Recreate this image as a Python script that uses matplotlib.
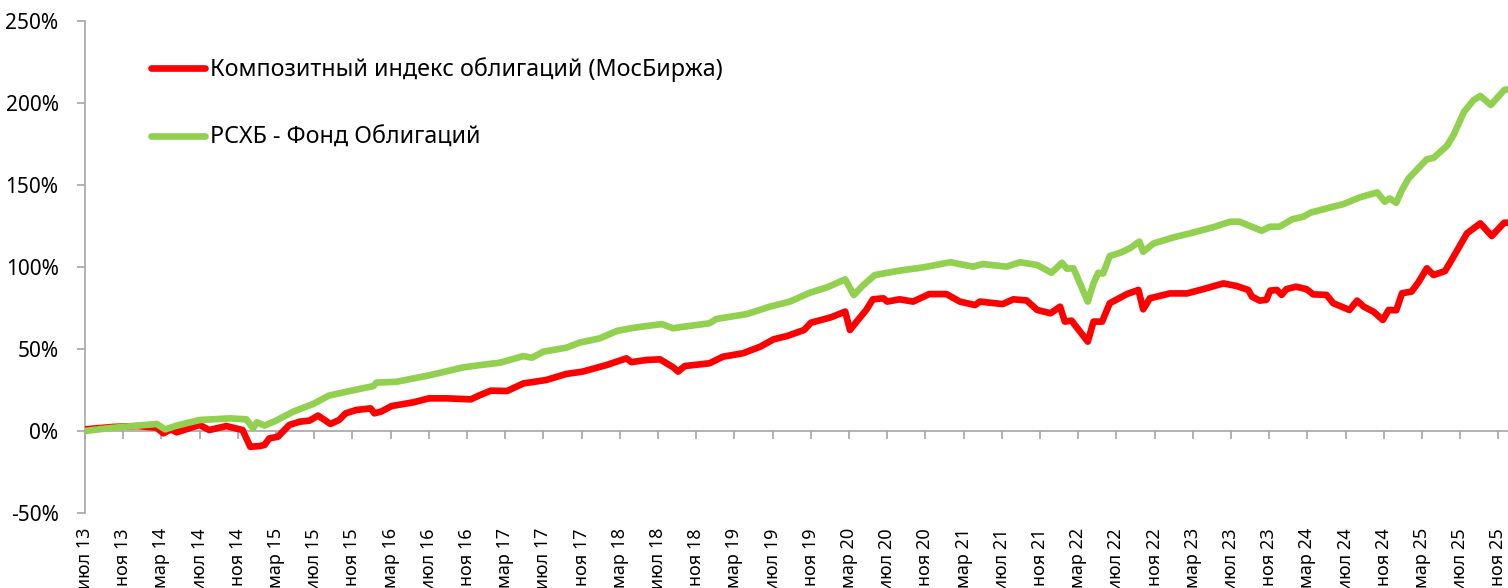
import matplotlib
matplotlib.use("Agg")
import matplotlib.pyplot as plt
from matplotlib.lines import Line2D

plt.rcParams['font.family'] = ['Noto Sans', 'DejaVu Sans']

# months since July 2013
red_x = [0, 3, 5.5, 7.5, 8.2, 9, 9.6, 12, 13, 14.8, 16.5, 17.3, 18.3, 18.8, 19.3, 20.2,
         21.4, 22.5, 23.5, 24.4, 25.7, 26.6, 27.3, 28.4, 29.9, 30.3, 31, 32.1, 34.4, 36,
         37.9, 40.4, 41.4, 42.5, 44.2, 45.9, 48.3, 50.4, 52.1, 54.6, 56.7, 57.2, 58.8,
         60.2, 61.6, 62.1, 62.8, 65.4, 66.8, 68.9, 70.7, 72.1, 73.5, 75.3, 76, 78.1, 79.6,
         80.1, 80.8, 81.8, 82.5, 83.6, 84, 85.3, 86.7, 88.4, 90.2, 91.6, 93.2, 93.7, 96.1,
         97.2, 98.6, 99.7, 101.1, 102.1, 102.6, 103.3, 105, 105.6, 106.5, 107.3, 109.1,
         110.3, 110.8, 111.5, 113.6, 115.4, 117.4, 119.2, 120.6, 121.8, 122.2, 123, 123.7,
         124.1, 124.8, 125.3, 125.8, 126.8, 127.9, 128.6, 130, 130.7, 132.4, 133.2, 133.9,
         134.9, 135.9, 136.5, 137.3, 137.9, 138.9, 139.6, 140.5, 141.2, 142.4, 143.3,
         144.7, 146.1, 147.3, 148.6, 149.1]
red_y = [1.0, 2.5, 3.0, 2.0, -1.4, 1.0, -0.8, 3.7, 0.6, 3.0, 0.6, -9.6, -9.2, -8.5, -4.5, -3.5,
         3.7, 5.7, 6.3, 9.4, 4.3, 6.7, 10.8, 12.8, 13.8, 10.8, 11.8, 15.2, 17.5, 19.9,
         19.9, 19.3, 22.0, 24.6, 24.4, 29.0, 31.1, 34.8, 36.2, 40.2, 44.3, 42.0, 43.3,
         43.7, 38.8, 36.2, 39.6, 41.3, 45.3, 47.4, 51.4, 55.9, 57.9, 61.6, 66.0, 69.3, 72.8,
         61.6, 66.7, 73.8, 80.3, 80.9, 78.9, 80.3, 78.9, 83.5, 83.5, 78.9, 76.8, 78.9, 77.4,
         80.3, 79.6, 73.8, 71.8, 75.8, 66.7, 67.3, 54.5, 66.7, 66.7, 77.9, 83.5,
         86.0, 74.2, 80.9, 83.9, 83.9, 87.0, 90.0, 88.4, 86.0, 81.9, 79.5, 80.0,
         85.6, 86.0, 83.0, 86.5, 88.0, 86.5, 83.3, 83.0, 77.9, 73.8, 79.5, 75.8,
         72.8, 67.7, 73.8, 73.6, 84.0, 85.0, 90.5, 99.2, 95.1, 97.5, 106.3,
         120.5, 126.6, 118.9, 127.0, 127.0]

green_x = [0, 2.3, 5, 7.5, 8.4, 9.6, 12, 15.2, 16.9, 17.6, 18, 18.8, 20, 21.8, 23.9, 25.5,
           27.4, 30.2, 30.5, 32.6, 36.1, 39.6, 41.4, 43.5, 45.9, 46.8, 48, 50.4, 51.8, 53.9,
           55.7, 57.1, 58.8, 60.4, 61.6, 62.3, 65.4, 66.1, 69.3, 71.7, 73.8, 75.9, 77.7,
           79.6, 80.5, 81.5, 82.7, 85.3, 87.8, 90.6, 93, 94, 96.5, 97.9, 99.7, 101.2, 102.3,
           102.8, 103.5, 105, 105.6, 106.1, 106.6, 107.3, 108.4, 109.4, 110.4, 110.8, 111.9,
           114, 115.7, 118.1, 119.9, 120.9, 123.2, 124.1, 125.1, 126.4, 127.6, 128.3, 130.7,
           131.8, 133.5, 135.3, 136.1, 136.6, 137.3, 137.9, 138.6, 140.5, 141.2, 142.6,
           143.3, 144.4, 145.4, 146.1, 147.2, 148.6, 149.1]
green_y = [0.0, 1.6, 3.0, 4.3, 1.0, 3.3, 6.7, 7.7, 7.1, 1.6, 5.3, 3.3, 6.3, 11.8, 16.5, 21.5,
           24.0, 27.4, 29.5, 30.0, 34.0, 38.8, 40.2, 41.7, 45.7, 44.7, 48.4, 50.8, 53.9, 56.5,
           61.0, 62.6, 64.0, 65.2, 62.6, 63.3, 65.7, 68.3, 71.3, 75.8, 78.9, 84.3, 87.6,
           92.5, 82.9, 89.0, 95.1, 97.8, 99.8, 102.9, 100.2, 101.8, 100.2, 102.9, 101.2, 96.5, 102.6,
           99.0, 99.2, 78.9, 90.1, 96.5, 96.0, 106.7, 108.7, 111.4, 115.5, 109.3, 114.4,
           118.1, 120.5, 124.2, 127.6, 127.6, 122.1, 124.6, 124.6, 129.1, 130.7, 133.1, 136.8,
           138.4, 142.5, 145.5, 139.8, 141.8, 139.2, 147.0, 154.1, 165.7, 166.5, 173.8,
           180.5, 194.7, 201.8, 204.3, 198.8, 207.9, 208.5]

tick_labels = ['июл 13', 'ноя 13', 'мар 14', 'июл 14', 'ноя 14', 'мар 15', 'июл 15', 'ноя 15',
               'мар 16', 'июл 16', 'ноя 16', 'мар 17', 'июл 17', 'ноя 17', 'мар 18', 'июл 18',
               'ноя 18', 'мар 19', 'июл 19', 'ноя 19', 'мар 20', 'июл 20', 'ноя 20', 'мар 21',
               'июл 21', 'ноя 21', 'мар 22', 'июл 22', 'ноя 22', 'мар 23', 'июл 23', 'ноя 23',
               'мар 24', 'июл 24', 'ноя 24', 'мар 25', 'июл 25', 'ноя 25']
tick_pos = [4 * i for i in range(len(tick_labels))]

series_names = ['Композитный индекс облигаций (МосБиржа)', 'РСХБ - Фонд Облигаций']
RED = '#FF0000'
GREEN = '#92D050'
LW = 4.8

W, H = 1508, 588
fig = plt.figure(figsize=(W / 100, H / 100), dpi=100)
ax = fig.add_axes([85 / W, 75 / H, (W - 85) / W, (513 - 21) / H])

ax.plot(red_x, red_y, color=RED, lw=LW, solid_joinstyle='round', solid_capstyle='round', zorder=3)
ax.plot(green_x, green_y, color=GREEN, lw=LW, solid_joinstyle='round', solid_capstyle='round', zorder=4)

ax.set_xlim(0, 149.0)
ax.set_ylim(-50, 250)
ax.set_yticks([-50, 0, 50, 100, 150, 200, 250])
ax.set_yticklabels(['-50%', '0%', '50%', '100%', '150%', '200%', '250%'], fontsize=15)

for s in ['top', 'right']:
    ax.spines[s].set_visible(False)
ax.spines['left'].set_color('#a6a6a6')
ax.spines['left'].set_linewidth(1.2)
ax.spines['bottom'].set_position(('data', 0))
ax.spines['bottom'].set_color('#a6a6a6')
ax.spines['bottom'].set_linewidth(1.2)
ax.tick_params(axis='y', direction='out', length=6, width=1.2, color='#a6a6a6', pad=13)
ax.tick_params(axis='x', direction='out', length=6, width=1.2, color='#a6a6a6')
ax.set_xticks(tick_pos)
ax.set_xticklabels([])

for p, lab in zip(tick_pos, tick_labels):
    ax.annotate(lab, xy=(p, -50), xycoords='data', xytext=(0, -15), textcoords='offset pixels',
                rotation=90, ha='center', va='top', fontsize=13, annotation_clip=False)

handles = [Line2D([], [], color=RED, lw=LW, solid_capstyle='round'),
           Line2D([], [], color=GREEN, lw=LW, solid_capstyle='round')]
ax.legend(handles, series_names, loc='upper left', bbox_to_anchor=(151 / W, 1 - 57 / H),
          bbox_transform=fig.transFigure, frameon=False, fontsize=16.8,
          handlelength=2.3, handletextpad=0.22, labelspacing=1.9, borderpad=0, borderaxespad=0)

fig.savefig('out.png', dpi=100)
